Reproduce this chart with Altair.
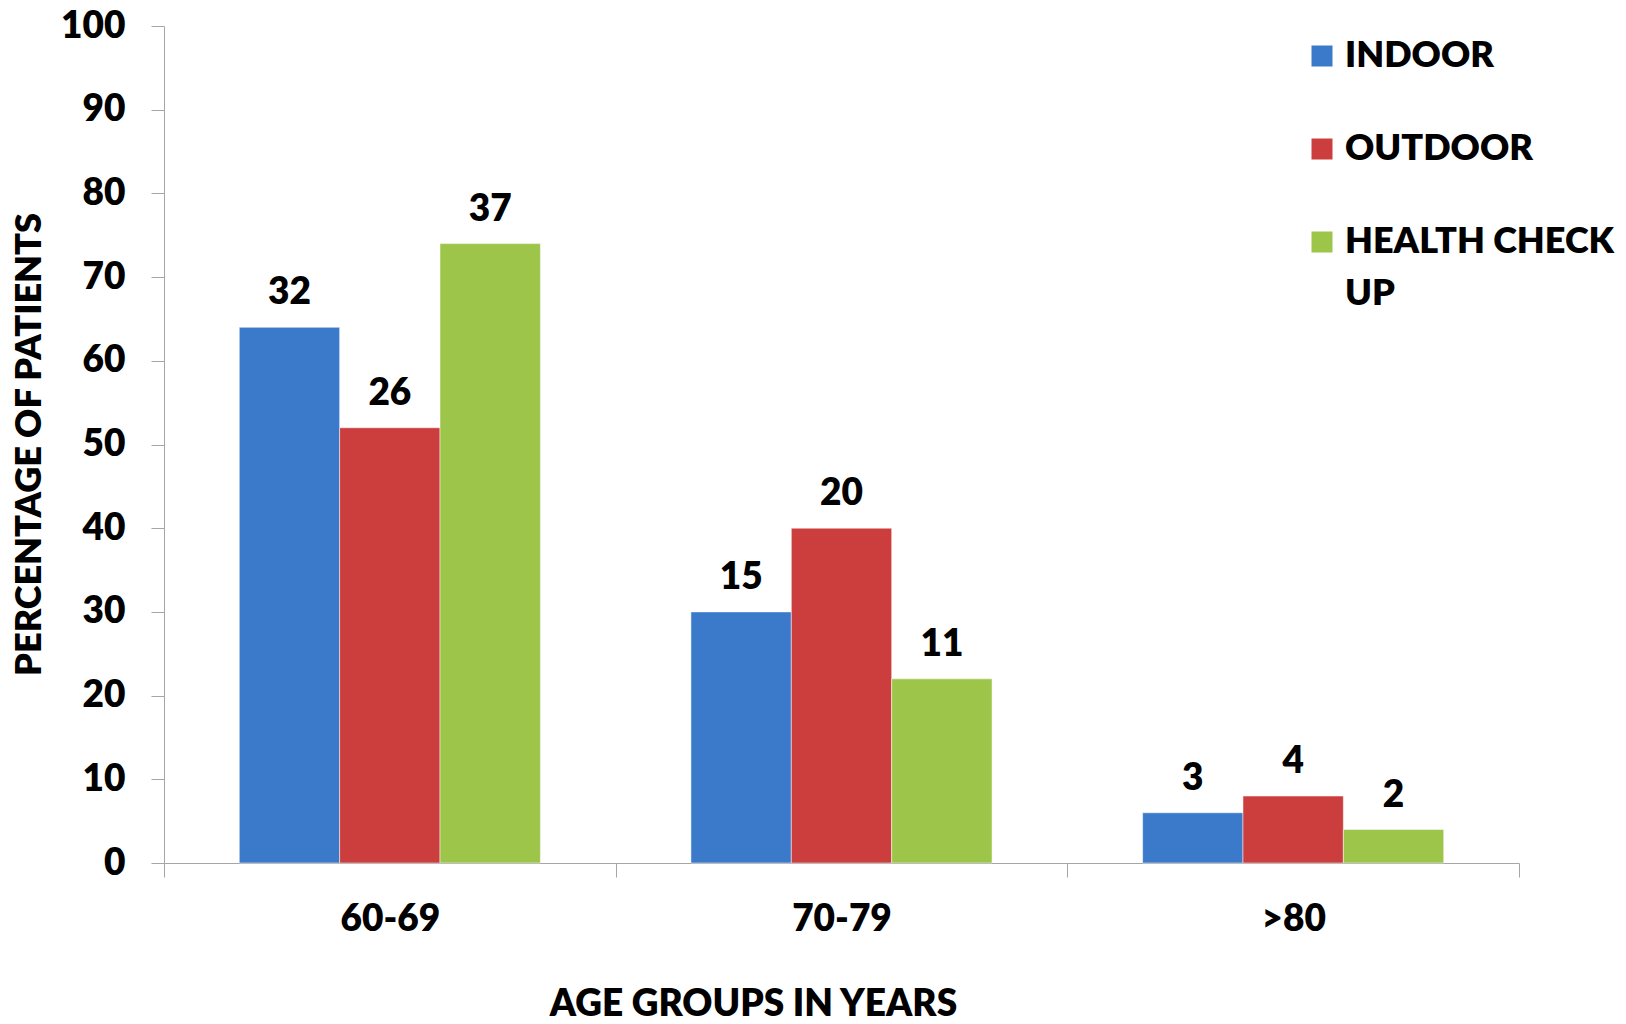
import altair as alt
import pandas as pd

age_groups = ["60-69", "70-79", ">80"]
series = ["INDOOR", "OUTDOOR", "HEALTH CHECK UP"]
indoor_pct = [64, 30, 6]
outdoor_pct = [52, 40, 8]
health_pct = [74, 22, 4]
indoor_n = [32, 15, 3]
outdoor_n = [26, 20, 4]
health_n = [37, 11, 2]
colors = ["#3B7ACA", "#CC3D3D", "#9DC549"]
y_ticks = [0, 10, 20, 30, 40, 50, 60, 70, 80, 90, 100]

rows = []
for s, pcts, ns in zip(series, [indoor_pct, outdoor_pct, health_pct], [indoor_n, outdoor_n, health_n]):
    for a, p, n in zip(age_groups, pcts, ns):
        rows.append({"age": a, "series": s, "pct": p, "n": n})
df = pd.DataFrame(rows)

FONT = "Lato"
WEIGHT = 800

x = alt.X("age:N", sort=age_groups, title="AGE GROUPS IN YEARS",
          scale=alt.Scale(paddingInner=0, paddingOuter=0),
          axis=alt.Axis(labelAngle=0, tickBand="extent", tickSize=14, labelPadding=24,
                        domainColor="#A6A6A6", tickColor="#A6A6A6",
                        titleX=589, titleY=152, titleAlign="center", titleBaseline="alphabetic"))
xo = alt.XOffset("series:N", sort=series, scale=alt.Scale(paddingInner=0, paddingOuter=0.75))
y = alt.Y("pct:Q", title="PERCENTAGE OF PATIENTS",
          scale=alt.Scale(domain=[0, 100], nice=False),
          axis=alt.Axis(values=y_ticks, grid=False, tickSize=13, labelPadding=26,
                        domainColor="#A6A6A6", tickColor="#A6A6A6",
                        titleX=-135, titleY=418, titleAngle=-90, titleBaseline="middle",
                        titleAlign="center", titleFontSize=36))

bars = alt.Chart(df).mark_bar(stroke="#ffffff", strokeWidth=0.5).encode(
    x=x, xOffset=xo, y=y,
    color=alt.Color("series:N", sort=series,
                    scale=alt.Scale(domain=series, range=colors),
                    legend=alt.Legend(title=None, orient="none", legendX=1140, legendY=12,
                                      symbolType="square", symbolSize=441,
                                      symbolStrokeWidth=0, labelFontSize=36,
                                      labelFont=FONT, labelFontWeight=WEIGHT,
                                      labelColor="#000000", rowPadding=57, labelOffset=5,
                                      labelLimit=400,
                                      labelExpr="datum.label == 'HEALTH CHECK UP' ? ['HEALTH CHECK', 'UP'] : datum.label")),
)

labels = alt.Chart(df).mark_text(dy=-23, baseline="alphabetic", fontSize=37,
                                 font=FONT, fontWeight=WEIGHT, color="#000000").encode(
    x=alt.X("age:N", sort=age_groups), xOffset=alt.XOffset("series:N", sort=series), y="pct:Q",
    text="n:Q",
)

chart = (bars + labels).properties(
    width=1355, height=837,
    autosize=alt.AutoSizeParams(type="none"),
    padding={"left": 164, "top": 26, "right": 107, "bottom": 161},
).configure_axis(
    labelFont=FONT, labelFontSize=37, labelFontWeight=WEIGHT, labelColor="#000000",
    titleFont=FONT, titleFontSize=37, titleFontWeight=WEIGHT, titleColor="#000000",
).configure_view(stroke=None)

patch = [{"op": "add", "path": "/legends/0/encode/labels/update/lineHeight", "value": {"value": 52}}]

chart.save("out.html", embed_options={"renderer": "svg", "actions": False, "patch": patch})
